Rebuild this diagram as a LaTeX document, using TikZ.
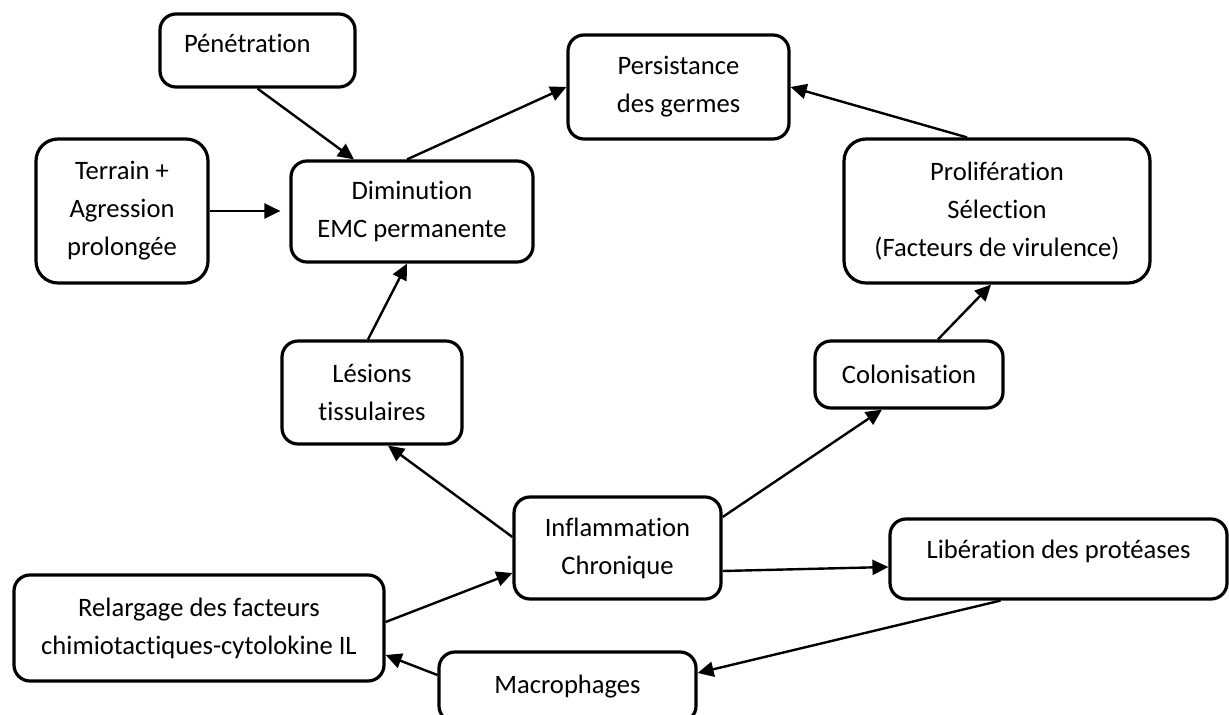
\documentclass[tikz,border=0pt]{standalone}
\usepackage{fontspec}
\setmainfont{Carlito}[Ligatures=NoCommon]
\usetikzlibrary{arrows.meta}

\begin{document}
\begin{tikzpicture}[x=0.5pt, y=-0.5pt,
  box/.style={draw, line width=1.6pt, rounded corners=8pt, align=center,
    inner sep=0pt, font=\fontsize{13.3}{19}\selectfont},
  dims/.style 2 args={minimum width=#1, minimum height=#2},
  link/.style={line width=1.2pt, -{Triangle[length=8pt,width=7.5pt]}}]

% 1. Page frame (Macrophages box runs off the bottom)
\useasboundingbox (0,0) rectangle (1229,715);
\clip (0,0) rectangle (1229,715);

% 2. Boxes, upper part
\node[box, dims={97.5pt}{36.5pt}, inner xsep=12pt, text width=73.5pt,
  align=left, text depth=7.5pt] (pen) at (257.5,50.5) {Pénétration};
\node[box, dims={86pt}{72pt}, rounded corners=11pt] (terr) at (122,211)
  {Terrain +\\ Agression\\ prolongée};
\node[box, dims={121pt}{50.5pt}] (dimi) at (412,211.5)
  {Diminution\\ EMC permanente};
\node[box, dims={110.5pt}{52pt}] (pers) at (678.5,87)
  {Persistance\\ des germes};
\node[box, dims={153pt}{72pt}, rounded corners=11pt] (prol) at (997,211)
  {Prolifération\\ Sélection\\ (Facteurs de virulence)};

% 3. Boxes, middle part
\node[box, dims={90pt}{51.5pt}] (lesi) at (372,392.5)
  {Lésions\\ tissulaires};
\node[box, dims={94pt}{33.5pt}] (colo) at (909,374.5) {Colonisation};
\node[box, dims={103.5pt}{51pt}] (infl) at (617.5,548)
  {Inflammation\\ Chronique};

% 4. Boxes, lower part
\node[box, dims={168.5pt}{40pt}, text depth=10pt] (libe) at (1058.5,559)
  {Libération des protéases};
\node[box, dims={185pt}{53pt}] (rela) at (199,628)
  {Relargage des facteurs\\ chimiotactiques-cytolokine IL};
\node[box, dims={128.5pt}{35pt}] (macro) at (567.5,687) {Macrophages};

% 5. Arrows towards the top
\draw[link] (pen.south) -- ([xshift=-29pt]dimi.north);
\draw[link, shorten >=4.5pt] (terr.east) -- (terr.east -| dimi.west);
\draw[link] ([xshift=-2.5pt]dimi.north) -- (pers.west);
\draw[link] ([xshift=-2pt]lesi.north) -- ([xshift=-2.5pt]dimi.south);
\draw[link] ([xshift=-15pt]prol.north) -- (pers.east);
\draw[link] ([xshift=14.5pt]colo.north) -- ([xshift=-3pt]prol.south);

% 6. Arrows round the inflammation
\draw[link] ([yshift=5.5pt]infl.west) -- ([xshift=8pt]lesi.south);
\draw[link] ([yshift=15.5pt]infl.east) -- ([xshift=-13.5pt]colo.south);
\draw[link] ([yshift=-11.5pt]infl.east) -- ([yshift=-4pt]libe.west);
\draw[link] ([xshift=-29pt]libe.south) -- ([yshift=7pt]macro.east);
\draw[link] ([yshift=6pt]macro.west) -- ([yshift=-13.5pt]rela.east);
\draw[link] ([yshift=3pt]rela.east) -- ([yshift=-12.5pt]infl.west);

\end{tikzpicture}
\end{document}
